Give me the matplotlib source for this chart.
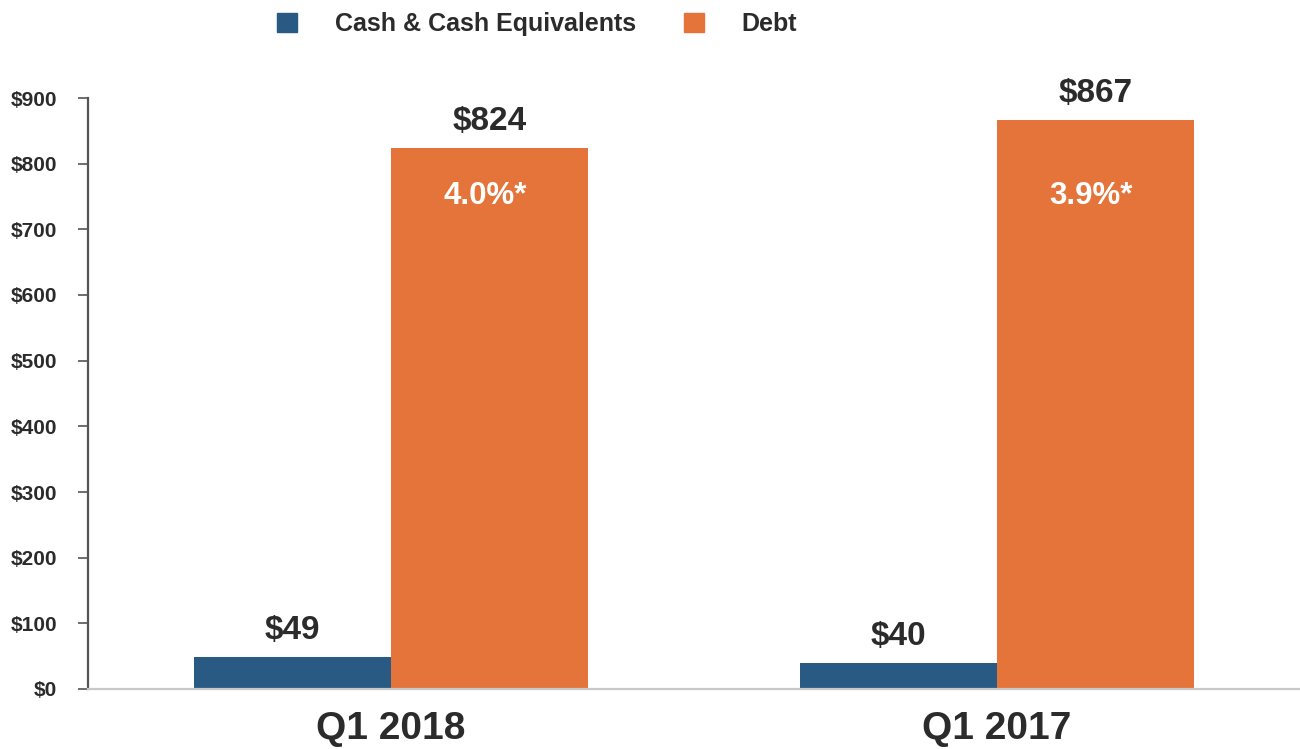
import matplotlib
matplotlib.use("Agg")
import matplotlib.pyplot as plt
import numpy as np
from matplotlib.patches import Patch

categories = ["Q1 2018", "Q1 2017"]
cash = [49, 40]
debt = [824, 867]
rates = ["4.0%*", "3.9%*"]
yticks = [0, 100, 200, 300, 400, 500, 600, 700, 800, 900]
ytick_labels = ["$" + str(v) for v in yticks]

blue = "#285a84"
orange = "#e5743a"
txt = "#2b2b2b"

plt.rcParams['font.family'] = ['Liberation Sans', 'DejaVu Sans']
plt.rcParams['font.weight'] = 'bold'

fig = plt.figure(figsize=(13, 7.49), dpi=100)
ax = fig.add_axes([88/1300, 60/749, 1 - 88/1300, (689-98)/749])

x = np.arange(len(categories))
w = 0.325
b1 = ax.bar(x - w/2, cash, w, color=blue, label="Cash & Cash Equivalents")
b2 = ax.bar(x + w/2, debt, w, color=orange, label="Debt")

ax.set_xlim(-0.5, 1.5)
ax.set_ylim(0, 900)
ax.set_yticks(yticks)
ax.set_yticklabels(ytick_labels, fontsize=15, fontweight='bold', color=txt)
ax.set_xticks(x)
ax.set_xticklabels(categories, fontsize=28, fontweight='bold', color=txt)
ax.tick_params(axis='x', length=0, pad=16)
ax.tick_params(axis='y', length=7, width=1.2, color='#555555', pad=15)

for s in ['top', 'right']:
    ax.spines[s].set_visible(False)
ax.spines['left'].set_color('#555555')
ax.spines['left'].set_linewidth(1.6)
ax.spines['bottom'].set_color('#c8c8c8')
ax.spines['bottom'].set_linewidth(1.6)

for xi, v in zip(x, cash):
    ax.annotate("$" + str(v), (xi - w/2, v), xytext=(0, 13), textcoords='offset points',
                ha='center', va='baseline', fontsize=24, fontweight='bold', color=txt)
for xi, v, r in zip(x, debt, rates):
    ax.annotate("$" + str(v), (xi + w/2, v), xytext=(0, 13), textcoords='offset points',
                ha='center', va='baseline', fontsize=24, fontweight='bold', color=txt)
    ax.annotate(r, (xi + w/2, 750), xytext=(-3, 0), textcoords='offset points',
                ha='center', va='center', fontsize=22.5, fontweight='bold', color='white')

handles = [Patch(color=blue), Patch(color=orange)]
fig.legend(handles, ["Cash & Cash Equivalents", "Debt"], loc='center',
           bbox_to_anchor=(537/1300, 1 - 24/749), ncol=2, frameon=False,
           prop={'family': ['Liberation Sans'], 'weight': 'bold', 'size': 18},
           handlelength=0.8, handleheight=0.8, handletextpad=1.52, columnspacing=1.92,
           labelcolor=txt)

fig.savefig("out.png", dpi=100)
